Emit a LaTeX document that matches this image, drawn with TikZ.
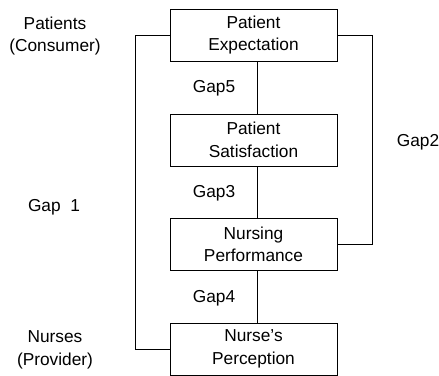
\documentclass[tikz,border=0pt]{standalone}
\usepackage{fontspec}
\setmainfont{Liberation Sans}
\begin{document}
\begin{tikzpicture}[x=1pt,y=-1pt,
  font=\fontsize{17.3}{22.5}\selectfont,
  box/.style={draw,line width=0.8pt,minimum width=167pt,minimum height=52pt,inner sep=0pt,align=center},
  lbl/.style={align=center,inner sep=0pt},
  conn/.style={line width=0.8pt}]
\useasboundingbox (0,0) rectangle (439,375);
\node[box] (pe) at (253.5,35) {Patient\\Expectation};
\node[box] (ps) at (253.5,140) {Patient\\Satisfaction};
\node[box] (np) at (253.5,244.5) {Nursing\\Performance};
\node[box] (nperc) at (253.5,349) {Nurse’s\\Perception};
\draw[conn] (pe.south -| 257,0) -- (ps.north -| 257,0);
\draw[conn] (ps.south -| 257,0) -- (np.north -| 257,0);
\draw[conn] (np.south -| 257,0) -- (nperc.north -| 257,0);
\coordinate (l1) at (135,35);
\coordinate (l2) at (135,349);
\coordinate (r1) at (372,35);
\coordinate (r2) at (372,244.5);
\draw[conn] (pe.west) -- (l1) -- (l2) -- (nperc.west);
\draw[conn] (pe.east) -- (r1) -- (r2) -- (np.east);
\node[lbl] (tp) at (55,36) {Patients\\(Consumer)};
\node[lbl] (tn) at (55,350) {Nurses\\(Provider)};
\node[lbl] (g1) at (54,207) {Gap\ \ 1};
\node[lbl] (g2) at (418,142) {Gap2};
\node[lbl] (g5) at (214,88) {Gap5};
\node[lbl] (g3) at (214,193) {Gap3};
\node[lbl] (g4) at (214,298) {Gap4};
\end{tikzpicture}
\end{document}
